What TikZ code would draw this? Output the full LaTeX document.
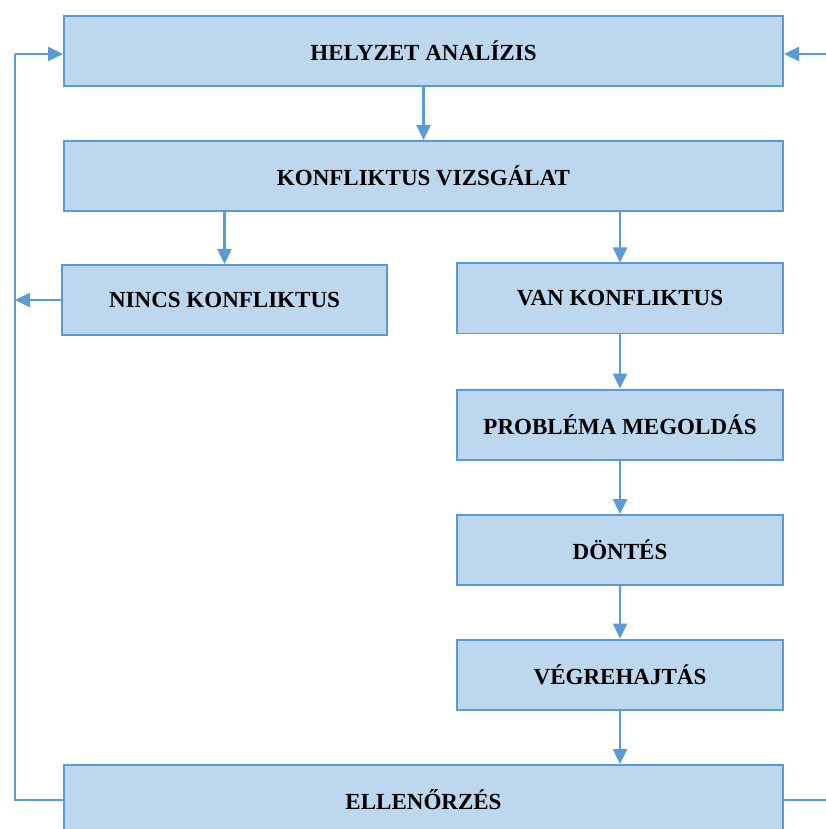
\documentclass[tikz,border=0pt]{standalone}
\usepackage{fontspec}
\setmainfont{Liberation Serif}
\usetikzlibrary{arrows.meta}
\definecolor{keret}{HTML}{5B9BD5}
\definecolor{kitoltes}{HTML}{BDD7EE}
\pgfdeclarelayer{bg}
\pgfsetlayers{bg,main}
\tikzset{
    every node/.style={rectangle, draw=keret, fill=kitoltes, line width=0.04cm, inner sep=0mm, minimum height=1.40cm, font=\bfseries\fontsize{13.1}{15}\selectfont}
}
\tikzset{wide/.style={minimum width=14.38cm}, narrow/.style={minimum width=6.51cm}}
\tikzset{arrow/.style={draw=keret, line width=0.05cm, -{Triangle[length=0.30cm, width=0.28cm]}}}
\tikzset{line/.style={draw=keret, line width=0.05cm}}

\begin{document}
\begin{tikzpicture}
        \useasboundingbox (0cm, 0cm) rectangle (16.500000cm, -16.580000cm);
        \node (helyzet) [wide] at (8.470000cm, -1.020000cm) {HELYZET ANALÍZIS};
        \node (vizsgalat) [wide] at (8.470000cm, -3.520000cm) {KONFLIKTUS VIZSGÁLAT};
        \node (nincs) [narrow] at (4.490000cm, -6.000000cm) {NINCS KONFLIKTUS};
        \node (van) [narrow] at (12.400000cm, -5.970000cm) {VAN KONFLIKTUS};
        \node (megoldas) [narrow] at (12.400000cm, -8.490000cm) {PROBLÉMA MEGOLDÁS};
        \node (dontes) [narrow] at (12.400000cm, -11.000000cm) {DÖNTÉS};
        \node (vegrehajtas) [narrow] at (12.400000cm, -13.490000cm) {VÉGREHAJTÁS};
        \node (ellenorzes) [wide] at (8.470000cm, -16.000000cm) {ELLENŐRZÉS};
        \coordinate (bal) at (0.300000cm, -1.080000cm);
        \coordinate (jobb) at (17.000000cm, -1.080000cm);
        \begin{pgfonlayer}{bg}
                \draw (helyzet) edge [arrow] (vizsgalat);
                \draw (vizsgalat.south -| nincs) edge [arrow] (nincs);
                \draw (vizsgalat.south -| van) edge [arrow] (van);
                \draw (van) edge [arrow] (megoldas);
                \draw (megoldas) edge [arrow] (dontes);
                \draw (dontes) edge [arrow] (vegrehajtas);
                \draw (vegrehajtas) edge [arrow] (ellenorzes.north -| vegrehajtas);
                \draw (nincs.west) edge [arrow] (nincs.west -| bal);
                \draw [line] (ellenorzes.west) -| (bal);
                \draw [arrow] (bal) -- (bal -| helyzet.west);
                \draw [line] (ellenorzes.east) -- (ellenorzes.east -| jobb);
                \draw [arrow] (jobb) -- (jobb -| helyzet.east);
        \end{pgfonlayer}
\end{tikzpicture}
\end{document}
